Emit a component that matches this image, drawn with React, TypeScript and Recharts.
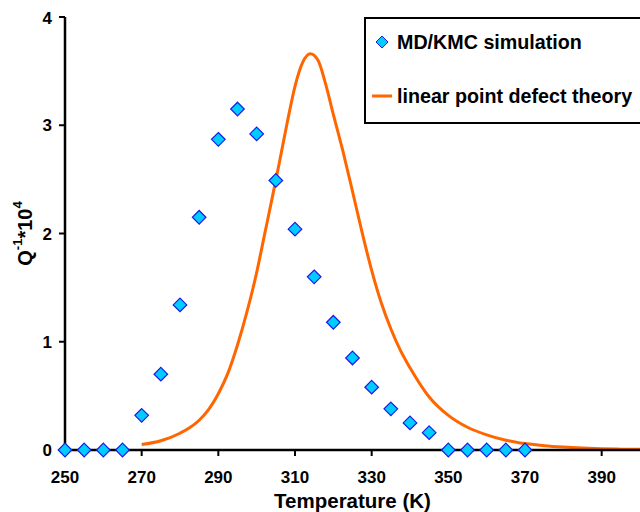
import React from "react";
import { ComposedChart, XAxis, YAxis, Scatter, Line, Label } from "recharts";

const simTemps = [250, 255, 260, 265, 270, 275, 280, 285, 290, 295, 300, 305, 310, 315, 320, 325, 330, 335, 340, 345, 350, 355, 360, 365, 370];
const simValues = [0, 0, 0, 0, 0.32, 0.7, 1.34, 2.15, 2.87, 3.15, 2.92, 2.49, 2.04, 1.6, 1.18, 0.85, 0.58, 0.38, 0.25, 0.16, 0, 0, 0, 0, 0];

const theoryTemps = [270, 275, 280, 282.5, 285, 287.5, 290, 292.5, 295, 297.5, 300, 302, 304, 306, 308, 310, 312, 314, 316, 318, 320, 322.5, 325, 327.5, 330, 332.5, 335, 337.5, 340, 345, 350, 355, 360, 365, 370, 375, 380, 385, 390, 395, 400];
const theoryValues = [0.05, 0.085, 0.155, 0.205, 0.275, 0.375, 0.52, 0.71, 0.97, 1.28, 1.64, 1.98, 2.32, 2.67, 3.03, 3.36, 3.58, 3.66, 3.6, 3.38, 3.1, 2.76, 2.39, 2.01, 1.66, 1.36, 1.12, 0.92, 0.76, 0.49, 0.32, 0.21, 0.14, 0.09, 0.06, 0.04, 0.027, 0.018, 0.012, 0.008, 0.006];

const xTicks = [250, 270, 290, 310, 330, 350, 370, 390];
const yTicks = [0, 1, 2, 3, 4];

const simRows = simTemps.map((t, i) => ({ t, q: simValues[i] }));
const theoryRows = theoryTemps.map((t, i) => ({ t, q: theoryValues[i] }));

const FONT = '"Liberation Sans", Arial, Helvetica, sans-serif';
const ORANGE = "#ff6600";

const Diamond = (props: any) => {
  const { cx, cy } = props;
  const r = 6.8;
  return (
    <polygon
      points={`${cx},${cy - r} ${cx + r},${cy} ${cx},${cy + r} ${cx - r},${cy}`}
      fill="#00ccff"
      stroke="#1a1ae6"
      strokeWidth={1.2}
    />
  );
};

const YTitle = (props: any) => {
  const vb = props.viewBox || { x: 0, y: 9, width: 57, height: 433 };
  const cx = vb.x + 17;
  const cy = vb.y + vb.height / 2;
  return (
    <text
      x={cx}
      y={cy}
      transform={`rotate(-90 ${cx} ${cy})`}
      textAnchor="middle"
      dominantBaseline="central"
      fontFamily={FONT}
      fontWeight="bold"
      fontSize={20}
      fill="#000"
    >
      Q
      <tspan dy={-8} fontSize={13}>-1</tspan>
      <tspan dy={8}>*10</tspan>
      <tspan dy={-8} fontSize={13}>4</tspan>
    </text>
  );
};

export default function App() {
  const tickStyle = { fontFamily: FONT, fontWeight: "bold", fontSize: 17, fill: "#000" };
  return (
    <div style={{ position: "fixed", left: 8, top: 8, width: 632, height: 504, overflow: "hidden", background: "#fff" }}>
      <ComposedChart width={632} height={504} margin={{ top: 9, right: 0, left: 0, bottom: 0 }}>
        <XAxis
          type="number"
          dataKey="t"
          domain={[250, 400]}
          ticks={xTicks}
          height={62}
          tickSize={6}
          tickMargin={15}
          tick={tickStyle}
          axisLine={{ stroke: "#000", strokeWidth: 2.5 }}
          tickLine={{ stroke: "#000", strokeWidth: 2 }}
        >
          <Label
            value="Temperature (K)"
            position="insideBottom"
            offset={4}
            style={{ fontFamily: FONT, fontWeight: "bold", fontSize: 20.5, fill: "#000" }}
          />
        </XAxis>
        <YAxis
          type="number"
          domain={[0, 4]}
          ticks={yTicks}
          width={57}
          tickSize={6}
          tickMargin={7}
          tick={tickStyle}
          axisLine={{ stroke: "#000", strokeWidth: 2.5 }}
          tickLine={{ stroke: "#000", strokeWidth: 2 }}
        >
          <Label content={<YTitle />} />
        </YAxis>
        <Line
          data={theoryRows}
          dataKey="q"
          type="monotone"
          stroke={ORANGE}
          strokeWidth={3}
          dot={false}
          activeDot={false}
          isAnimationActive={false}
        />
        <Scatter data={simRows} dataKey="q" shape={<Diamond />} isAnimationActive={false} />
      </ComposedChart>

      <div
        style={{
          position: "absolute",
          left: 356,
          top: 9,
          width: 276,
          height: 103,
          border: "2.5px solid #000",
          borderRight: "none",
          background: "#fff",
          fontFamily: FONT,
          fontWeight: "bold",
          fontSize: 19.7,
          color: "#000",
        }}
      >
        <div style={{ position: "absolute", left: 0, top: 11, height: 24, display: "flex", alignItems: "center", whiteSpace: "nowrap" }}>
          <svg width={31} height={24} style={{ display: "block" }}>
            <polygon points="16,6 22,12 16,18 10,12" fill="#00ccff" stroke="#1a1ae6" strokeWidth={1} />
          </svg>
          <span>MD/KMC simulation</span>
        </div>
        <div style={{ position: "absolute", left: 0, top: 65, height: 24, display: "flex", alignItems: "center", whiteSpace: "nowrap" }}>
          <svg width={31} height={24} style={{ display: "block" }}>
            <line x1={6} y1={12} x2={26} y2={12} stroke={ORANGE} strokeWidth={3} />
          </svg>
          <span>linear point defect theory</span>
        </div>
      </div>
    </div>
  );
}
